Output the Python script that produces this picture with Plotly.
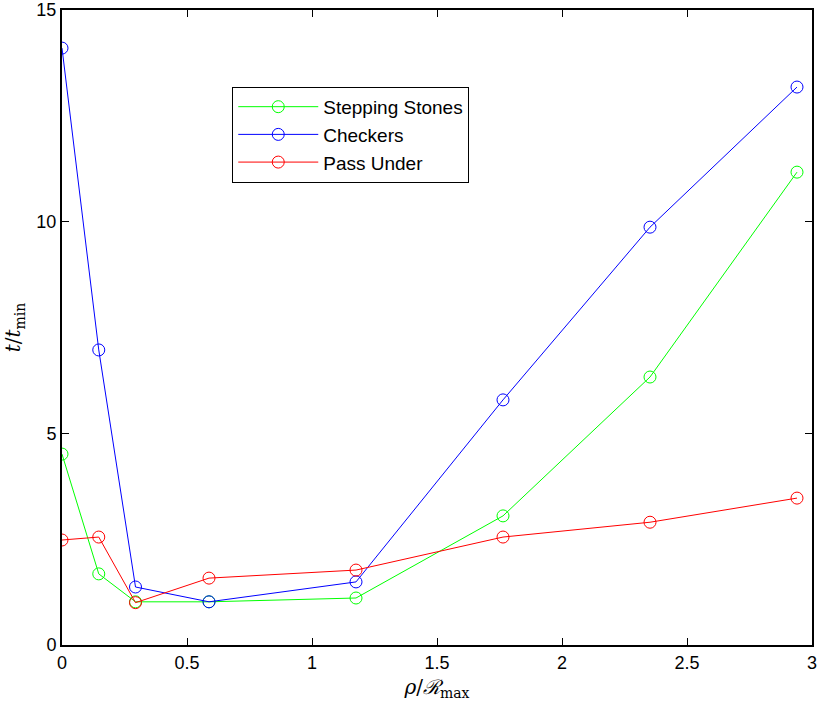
import plotly.graph_objects as go

x = [0, 0.147, 0.294, 0.588, 1.176, 1.764, 2.352, 2.94]
stepping = [4.51, 1.68, 1.02, 1.02, 1.11, 3.05, 6.33, 11.17]
checkers = [14.1, 6.97, 1.37, 1.02, 1.49, 5.79, 9.87, 13.18]
pass_under = [2.48, 2.55, 1.0, 1.58, 1.77, 2.55, 2.9, 3.47]

series = [("Stepping Stones", stepping, "#00ff00"),
          ("Checkers", checkers, "#0000ff"),
          ("Pass Under", pass_under, "#ff0000")]

fig = go.Figure()
for name, ys, col in series:
    fig.add_trace(go.Scatter(x=x, y=ys, name=name, mode="lines+markers",
                             line=dict(color=col, width=1),
                             marker=dict(symbol="circle-open", size=12, color=col, line=dict(width=1))))

axis_common = dict(showgrid=False, zeroline=False, showline=True, linecolor="black", linewidth=2,
                   mirror="allticks", ticks="inside", ticklen=7, tickcolor="black", automargin=False,
                   tickfont=dict(family="Liberation Sans, Arial", size=18, color="black"))

fig.update_layout(
    width=819, height=705,
    margin=dict(l=62, r=7, t=10, b=60),
    plot_bgcolor="white", paper_bgcolor="white",
    xaxis=dict(range=[0, 3], tickvals=[0, 0.5, 1, 1.5, 2, 2.5, 3],
               ticktext=["0", "0.5", "1", "1.5", "2", "2.5", "3"],
               title=dict(text="<i>ρ</i>/<i>ℛ</i><sub>max</sub>", font=dict(family="DejaVu Serif, Liberation Serif", size=20, color="black"), standoff=8),
               **axis_common),
    yaxis=dict(range=[0, 15], tickvals=[0, 5, 10, 15],
               title=dict(text="<i>t</i>/<i>t</i><sub>min</sub>", font=dict(family="DejaVu Serif, Liberation Serif", size=20, color="black"), standoff=10),
               **axis_common),
    legend=dict(x=0.227, y=0.879, xanchor="left", yanchor="top",
                bgcolor="white", bordercolor="black", borderwidth=1,
                font=dict(family="Liberation Sans, Arial", size=19, color="black"),
                itemwidth=80, tracegroupgap=0),
    showlegend=True,
)

fig.write_html("out.html")
